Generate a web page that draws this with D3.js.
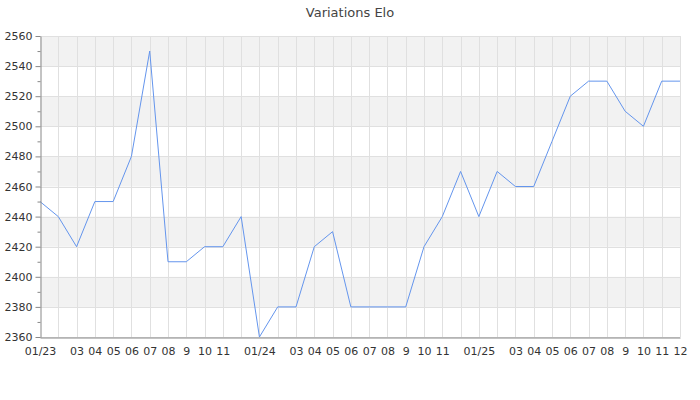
<!DOCTYPE html>
<meta charset="utf-8">
<script src="https://cdn.jsdelivr.net/npm/d3@7"></script>
<style>
body { margin: 0; background: #fff; }
text { font-family: "DejaVu Sans", sans-serif; fill: #333; }
.grid line { stroke: #e0e0e0; stroke-width: 1px; }
.axis path, .axis line { stroke: #888; }
</style>
<body>
<script>

// monthly Elo, 01/2023 .. 12/2025
var elo = [2450, 2440, 2420, 2450, 2450, 2480, 2550, 2410, 2410, 2420, 2420, 2440,
           2360, 2380, 2380, 2420, 2430, 2380, 2380, 2380, 2380, 2420, 2440, 2470,
           2440, 2470, 2460, 2460, 2490, 2520, 2530, 2530, 2510, 2500, 2530, 2530];

// labels shown under each month ("" = hidden in the original)
var monthLabels = ["01/23", "", "03", "04", "05", "06", "07", "08", "9", "10", "11", "",
                   "01/24", "", "03", "04", "05", "06", "07", "08", "9", "10", "11", "",
                   "01/25", "", "03", "04", "05", "06", "07", "08", "9", "10", "11", "12"];

var yTicks = [2360, 2380, 2400, 2420, 2440, 2460, 2480, 2500, 2520, 2540, 2560];
var yMinor = d3.range(2370, 2560, 20);

var width = 700, height = 400;
var margin = {top: 36, right: 20, bottom: 63, left: 40};

var svg = d3.select("body").append("svg")
    .attr("width", width)
    .attr("height", height);

var x = d3.scaleLinear()
    .domain([0, elo.length - 1])
    .range([margin.left, width - margin.right]);

var y = d3.scaleLinear()
    .domain([2360, 2560])
    .range([height - margin.bottom, margin.top]);

svg.append("text")
    .attr("x", width / 2)
    .attr("y", 17)
    .attr("text-anchor", "middle")
    .style("font-size", "13px")
    .style("fill", "#444")
    .text("Variations Elo");

// alternating bands
var bands = d3.range(0, yTicks.length - 1).filter(function(i) { return i % 2 == 1; });
svg.append("g")
    .selectAll("rect")
    .data(bands)
    .enter().append("rect")
    .attr("x", x(0))
    .attr("width", x(elo.length - 1) - x(0))
    .attr("y", function(i) { return y(yTicks[i + 1]); })
    .attr("height", function(i) { return y(yTicks[i]) - y(yTicks[i + 1]); })
    .style("fill", "#f2f2f2");

// grid
var grid = svg.append("g").attr("class", "grid");
grid.selectAll("line.h")
    .data(yTicks)
    .enter().append("line")
    .attr("class", "h")
    .attr("x1", x(0)).attr("x2", x(elo.length - 1))
    .attr("y1", function(d) { return Math.round(y(d)) + 0.5; })
    .attr("y2", function(d) { return Math.round(y(d)) + 0.5; });
grid.selectAll("line.v")
    .data(d3.range(1, elo.length))
    .enter().append("line")
    .attr("class", "v")
    .attr("x1", function(i) { return Math.round(x(i)) + 0.5; })
    .attr("x2", function(i) { return Math.round(x(i)) + 0.5; })
    .attr("y1", y(2560)).attr("y2", y(2360));

// line
var line = d3.line()
    .x(function(d, i) { return x(i); })
    .y(function(d) { return y(d); });

svg.append("path")
    .datum(elo)
    .attr("d", line)
    .style("fill", "none")
    .style("stroke", "#6495ed")
    .style("stroke-width", "1px");

// axes
var yAxis = svg.append("g")
    .attr("class", "axis")
    .attr("transform", "translate(" + (margin.left + 0.5) + ",0)")
    .call(d3.axisLeft(y).tickValues(yTicks).tickSize(5).tickSizeOuter(0).tickPadding(3).tickFormat(d3.format("d")));
yAxis.selectAll("text").style("font-size", "11px").style("fill", "#333");

var yMinorG = svg.append("g")
    .attr("class", "axis")
    .attr("transform", "translate(" + (margin.left + 0.5) + ",0)")
    .call(d3.axisLeft(y).tickValues(yMinor).tickSize(3).tickFormat(""));
yMinorG.select(".domain").remove();

var xAxis = svg.append("g")
    .attr("class", "axis")
    .attr("transform", "translate(0," + (Math.round(y(2360)) + 0.5) + ")")
    .call(d3.axisBottom(x).tickValues(d3.range(elo.length)).tickSize(0).tickSizeOuter(0).tickPadding(10)
        .tickFormat(function(i) { return monthLabels[i]; }));
xAxis.selectAll("text").style("font-size", "11px").style("fill", "#333");

</script>
</body>
</html>
